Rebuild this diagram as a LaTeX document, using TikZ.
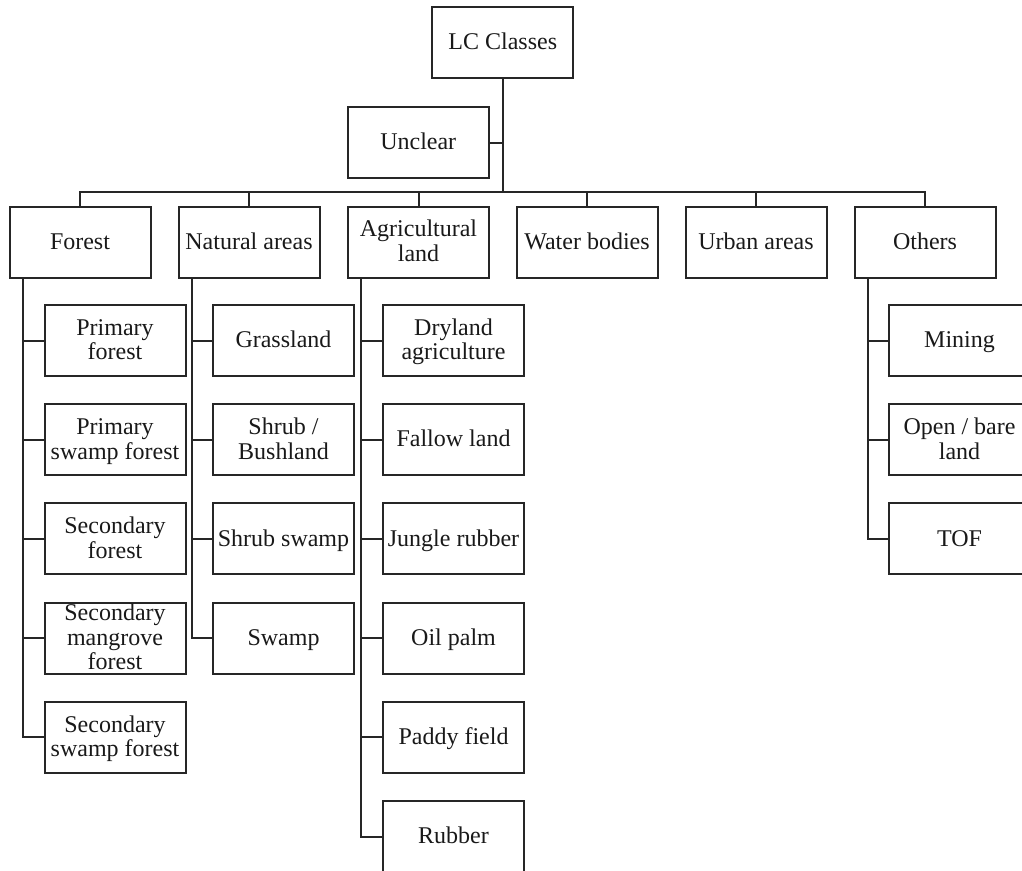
\documentclass[tikz,border=0pt]{standalone}
\usepackage{fontspec}
\setmainfont{Liberation Serif}
\definecolor{linec}{gray}{0.15}
\definecolor{textc}{gray}{0.1}
% centred cell text; the box keeps its fixed size even when text overflows
\newcommand\celltext[1]{\smash{\raisebox{-8.5pt}{\begin{tabular}{@{}c@{}}#1\end{tabular}}}}
\begin{document}
\begin{tikzpicture}[x=1pt,y=-1pt,
  cls/.style={draw=linec, line width=2pt, minimum width=141pt, minimum height=71pt,
    inner sep=0pt, text=textc, font=\fontsize{24}{24.5}\selectfont},
  link/.style={draw=linec, line width=2pt}]
\clip (0,0) rectangle (1022,870);

% root and the unclear class
\node[cls] (lc)  at (502.75,42.75) {\celltext{LC Classes}};
\node[cls] (unc) at (418.25,142.5) {\celltext{Unclear}};

% main classes
\node[cls] (forest) at (80,242)    {\celltext{Forest}};
\node[cls] (nat)    at (249,242)   {\celltext{Natural areas}};
\node[cls] (agr)    at (418.5,242) {\celltext{Agricultural\\land}};
\node[cls] (wat)    at (587,242)   {\celltext{Water bodies}};
\node[cls] (urb)    at (756,242)   {\celltext{Urban areas}};
\node[cls] (oth)    at (925,242)   {\celltext{Others}};

% forest subclasses
\node[cls] (pf)  at (115,340.5) {\celltext{Primary\\forest}};
\node[cls] (psf) at (115,439.7) {\celltext{Primary\\swamp forest}};
\node[cls] (sf)  at (115,538.9) {\celltext{Secondary\\forest}};
\node[cls] (smf) at (115,638.1) {\celltext{Secondary\\mangrove\\forest}};
\node[cls] (ssf) at (115,737.3) {\celltext{Secondary\\swamp forest}};

% natural area subclasses
\node[cls] (gra) at (283.5,340.5) {\celltext{Grassland}};
\node[cls] (shb) at (283.5,439.7) {\celltext{Shrub /\\Bushland}};
\node[cls] (shs) at (283.5,538.9) {\celltext{Shrub swamp}};
\node[cls] (swp) at (283.5,638.1) {\celltext{Swamp}};

% agricultural subclasses
\node[cls] (dry) at (453.5,340.5) {\celltext{Dryland\\agriculture}};
\node[cls] (fal) at (453.5,439.7) {\celltext{Fallow land}};
\node[cls] (jun) at (453.5,538.9) {\celltext{Jungle rubber}};
\node[cls] (oil) at (453.5,638.1) {\celltext{Oil palm}};
\node[cls] (pad) at (453.5,737.3) {\celltext{Paddy field}};
\node[cls] (rub) at (453.5,836.5) {\celltext{Rubber}};

% other subclasses
\node[cls] (min) at (959.5,340.5) {\celltext{Mining}};
\node[cls] (opn) at (959.5,439.7) {\celltext{Open / bare\\land}};
\node[cls] (tof) at (959.5,538.9) {\celltext{TOF}};

% trunk and bus
\coordinate (bus) at (502.75,192);
\draw[link] (lc.south) -- (bus);
\draw[link] (unc.east) -- (unc.east -| bus);
\foreach \n in {forest,nat,agr,wat,urb,oth}
  \draw[link] (bus) -| (\n.north);

% subclass spines
\foreach \c in {pf,psf,sf,smf,ssf}
  \draw[link] ([xshift=14pt]forest.south west) |- (\c.west);
\foreach \c in {gra,shb,shs,swp}
  \draw[link] ([xshift=14pt]nat.south west) |- (\c.west);
\foreach \c in {dry,fal,jun,oil,pad,rub}
  \draw[link] ([xshift=14pt]agr.south west) |- (\c.west);
\foreach \c in {min,opn,tof}
  \draw[link] ([xshift=14pt]oth.south west) |- (\c.west);
\end{tikzpicture}
\end{document}
